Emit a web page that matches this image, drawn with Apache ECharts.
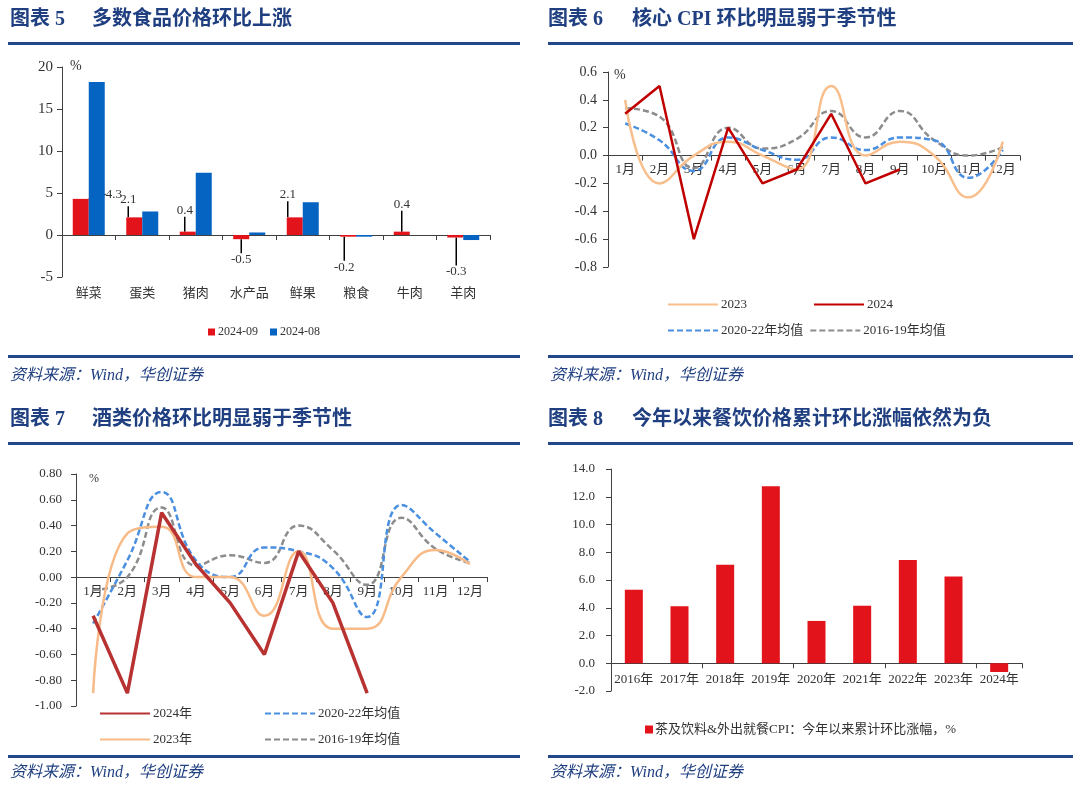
<!DOCTYPE html>
<html><head><meta charset="utf-8">
<script src="https://cdn.jsdelivr.net/npm/echarts/dist/echarts.min.js"></script>
<style>html,body{margin:0;padding:0;background:#fff}#c{width:1080px;height:791px}</style>
</head><body><div id="c"></div><script>
// Panel 5: food prices MoM
const foodCats = ['鲜菜','蛋类','猪肉','水产品','鲜果','粮食','牛肉','羊肉'];
const food202409 = [4.3, 2.1, 0.4, -0.5, 2.1, -0.2, 0.4, -0.3];
const food202408 = [18.2, 2.8, 7.4, 0.3, 3.9, -0.2, 0, -0.6];
// Panel 6: core CPI MoM
const months = ['1月','2月','3月','4月','5月','6月','7月','8月','9月','10月','11月','12月'];
const core2023 = [0.4, -0.2, 0.0, 0.1, 0.0, -0.1, 0.5, 0.0, 0.1, 0.0, -0.3, 0.1];
const core2024 = [0.3, 0.5, -0.6, 0.2, -0.2, -0.1, 0.3, -0.2, -0.1];
const core2022avg = [0.23, 0.11, -0.11, 0.13, 0.04, -0.03, 0.13, 0.04, 0.13, 0.11, -0.16, 0.04];
const core2019avg = [0.34, 0.28, -0.09, 0.2, 0.05, 0.12, 0.32, 0.13, 0.32, 0.11, 0.0, 0.06];
// Panel 7: liquor prices MoM
const liq2024 = [-0.3, -0.9, 0.5, 0.1, -0.2, -0.6, 0.2, -0.2, -0.9];
const liq2023 = [-0.9, 0.34, 0.39, 0.0, 0.0, -0.3, 0.2, -0.4, -0.4, 0.0, 0.21, 0.1];
const liq2022avg = [-0.36, 0.13, 0.66, 0.13, 0.0, 0.23, 0.2, 0.07, -0.31, 0.56, 0.34, 0.12];
const liq2019avg = [-0.1, 0.0, 0.54, 0.09, 0.17, 0.11, 0.4, 0.21, -0.06, 0.46, 0.22, 0.11];
// Panel 8: catering cumulative MoM
const years = ['2016年','2017年','2018年','2019年','2020年','2021年','2022年','2023年','2024年'];
const cater = [5.3, 4.1, 7.1, 12.75, 3.05, 4.15, 7.45, 6.25, -0.63];

const SERIF = '"Liberation Serif","Noto Sans CJK SC",serif';
const TXT = '#333';
const BLUE_T = '#1f3f80';
const RULE = '#24478a';

const grids = [
  {left: 62, top: 67, width: 428, height: 210},
  {left: 608, top: 72, width: 412, height: 195},
  {left: 76, top: 474, width: 411, height: 232},
  {left: 611, top: 469, width: 411, height: 222}
];
const yRanges = [[-5, 20, 5], [-0.8, 0.6, 0.2], [-1, 0.8, 0.2], [-2, 14, 2]];
// distance of the zero line above the grid bottom
const zeroLift = g => grids[g].height * (0 - yRanges[g][0]) / (yRanges[g][1] - yRanges[g][0]);

const chart = echarts.init(document.getElementById('c'), null, {renderer: 'canvas'});

function yAx(g, fmt, fs, margin) {
  return {
    type: 'value', gridIndex: g, min: yRanges[g][0], max: yRanges[g][1], interval: yRanges[g][2],
    axisLine: {show: true, lineStyle: {color: '#404040', width: 1}},
    axisTick: {show: true, length: 5, inside: false, lineStyle: {color: '#404040'}},
    splitLine: {show: false},
    axisLabel: {fontFamily: SERIF, fontSize: fs, color: TXT, margin: margin,
      formatter: v => { const f = Math.abs(v) < 1e-9 ? 0 : v; return fmt(f); }}
  };
}
// axis carrying only the category labels
function xLabels(g, data, margin, offset) {
  return {
    type: 'category', gridIndex: g, data: data, position: 'bottom', offset: offset,
    axisLine: {show: false, onZero: false}, axisTick: {show: false},
    axisLabel: {fontFamily: SERIF, fontSize: 13, color: TXT, margin: margin, interval: 0},
    splitLine: {show: false}
  };
}
// axis carrying the zero line and ticks
function xLine(g, data) {
  return {
    type: 'category', gridIndex: g, data: data, position: 'bottom',
    axisLine: {show: true, onZero: true, lineStyle: {color: '#404040', width: 1}},
    axisTick: {show: true, length: 5, inside: false, lineStyle: {color: '#404040'}},
    axisLabel: {show: false},
    splitLine: {show: false}
  };
}

const labelShift = [[33, 6], [-6, -7], [-3, -11], [0, 11], [-7, -12], [-4, 21], [0, -17], [1, 25]];

const lineS = (name, data, color, width, type, smooth, xi, yi, z) => ({
  name: name, type: 'line', data: data, xAxisIndex: xi, yAxisIndex: yi,
  symbol: 'none', smooth: smooth ? 0.5 : false, z: z,
  lineStyle: {color: color, width: width, type: type},
  itemStyle: {color: color}
});

const legLine = {itemWidth: 50, itemHeight: 10, itemStyle: {opacity: 0},
  textStyle: {fontFamily: SERIF, fontSize: 13, color: TXT, padding: [0, 0, 0, -2]}};

const option = {
  animation: false,
  backgroundColor: '#fff',
  grid: grids.map(g => Object.assign({containLabel: false, outerBoundsMode: 'none'}, g)),
  xAxis: [
    xLabels(0, foodCats, 10, 0),
    xLine(0, foodCats),
    xLabels(1, months, 8, -zeroLift(1)),
    xLine(1, months),
    xLabels(2, months, 8, -zeroLift(2)),
    xLine(2, months),
    xLabels(3, years, 10, -zeroLift(3)),
    xLine(3, years)
  ],
  yAxis: [
    yAx(0, v => String(v), 15, 9),
    yAx(1, v => v.toFixed(1), 14, 11),
    yAx(2, v => v.toFixed(2), 13, 14),
    yAx(3, v => v.toFixed(1), 13, 16)
  ],
  legend: [
    {left: 203, top: 321, itemWidth: 7, itemHeight: 7, itemGap: 12, icon: 'rect',
      textStyle: {fontFamily: SERIF, fontSize: 12, color: TXT, padding: [0, 0, 0, -2]},
      data: ['2024-09', '2024-08']},
    Object.assign({left: 662, top: 293, itemGap: 66, data: ['2023', '2024']}, legLine),
    Object.assign({left: 662, top: 319, itemGap: 6, data: ['2020-22年均值', '2016-19年均值']}, legLine),
    Object.assign({left: 94, top: 702, itemGap: 72, data: ['2024年', '2020-22年均值 ']}, legLine),
    Object.assign({left: 94, top: 728, itemGap: 72, data: ['2023年', '2016-19年均值 ']}, legLine),
    {left: 640, top: 718, itemWidth: 8, itemHeight: 8, icon: 'rect',
      textStyle: {fontFamily: SERIF, fontSize: 13, color: TXT, padding: [0, 0, 0, -3]},
      data: ['茶及饮料&外出就餐CPI：今年以来累计环比涨幅，%']}
  ],
  series: [
    {name: '2024-09', type: 'bar', xAxisIndex: 0, yAxisIndex: 0, data: food202409,
      barWidth: 16, barGap: '0%', itemStyle: {color: '#e3131b'},
      label: {show: true, fontFamily: SERIF, fontSize: 13, color: TXT,
        position: 'top', distance: 4,
        formatter: p => p.value.toFixed(1)},
      labelLine: {show: true, lineStyle: {color: '#000', width: 1.5}},
      labelLayout: p => {
        const s = labelShift[p.dataIndex];
        const neg = food202409[p.dataIndex] < 0;
        return {dx: s[0], dy: s[1] + (neg ? p.rect.height + 20 : 0)};
      }},
    {name: '2024-08', type: 'bar', xAxisIndex: 0, yAxisIndex: 0, data: food202408,
      barWidth: 16, barGap: '0%', itemStyle: {color: '#0563c1'}},

    lineS('2016-19年均值', core2019avg, '#8c8c8c', 2.5, [6, 3], true, 3, 1, 2),
    lineS('2020-22年均值', core2022avg, '#4a8fe0', 2.5, [6, 3], true, 3, 1, 3),
    lineS('2023', core2023, '#f8bf8c', 2.5, 'solid', true, 3, 1, 4),
    lineS('2024', core2024, '#c00000', 2.5, 'solid', false, 3, 1, 5),

    lineS('2016-19年均值 ', liq2019avg, '#8c8c8c', 2.5, [6, 3], true, 5, 2, 2),
    lineS('2020-22年均值 ', liq2022avg, '#4a8fe0', 2.5, [6, 3], true, 5, 2, 3),
    lineS('2023年', liq2023, '#f8bb88', 2.5, 'solid', true, 5, 2, 4),
    lineS('2024年', liq2024, '#b83232', 3.5, 'solid', false, 5, 2, 5),

    {name: '茶及饮料&外出就餐CPI：今年以来累计环比涨幅，%', type: 'bar', xAxisIndex: 7, yAxisIndex: 3,
      data: cater, barWidth: 18, itemStyle: {color: '#e3131b'}}
  ],
  graphic: [
    {type: 'text', left: 10, top: 10, style: {text: '图表 5', font: 'bold 20px ' + SERIF, fill: BLUE_T}},
    {type: 'text', left: 92, top: 10, style: {text: '多数食品价格环比上涨', font: 'bold 20px ' + SERIF, fill: BLUE_T}},
    {type: 'text', left: 548, top: 10, style: {text: '图表 6', font: 'bold 20px ' + SERIF, fill: BLUE_T}},
    {type: 'text', left: 632, top: 10, style: {text: '核心 CPI 环比明显弱于季节性', font: 'bold 20px ' + SERIF, fill: BLUE_T}},
    {type: 'text', left: 10, top: 410, style: {text: '图表 7', font: 'bold 20px ' + SERIF, fill: BLUE_T}},
    {type: 'text', left: 92, top: 410, style: {text: '酒类价格环比明显弱于季节性', font: 'bold 20px ' + SERIF, fill: BLUE_T}},
    {type: 'text', left: 548, top: 410, style: {text: '图表 8', font: 'bold 20px ' + SERIF, fill: BLUE_T}},
    {type: 'text', left: 632, top: 410, style: {text: '今年以来餐饮价格累计环比涨幅依然为负', font: 'bold 20px ' + SERIF, fill: BLUE_T}},

    {type: 'rect', shape: {x: 8, y: 42, width: 512, height: 3}, style: {fill: RULE}},
    {type: 'rect', shape: {x: 548, y: 42, width: 525, height: 3}, style: {fill: RULE}},
    {type: 'rect', shape: {x: 8, y: 355, width: 512, height: 3}, style: {fill: RULE}},
    {type: 'rect', shape: {x: 548, y: 355, width: 525, height: 3}, style: {fill: RULE}},
    {type: 'rect', shape: {x: 8, y: 442, width: 512, height: 3}, style: {fill: RULE}},
    {type: 'rect', shape: {x: 548, y: 442, width: 525, height: 3}, style: {fill: RULE}},
    {type: 'rect', shape: {x: 8, y: 755, width: 512, height: 3}, style: {fill: RULE}},
    {type: 'rect', shape: {x: 548, y: 755, width: 525, height: 3}, style: {fill: RULE}},

    {type: 'text', left: 10, top: 368, style: {text: '资料来源：Wind，华创证券', font: 'italic 16px ' + SERIF, fill: BLUE_T}},
    {type: 'text', left: 550, top: 368, style: {text: '资料来源：Wind，华创证券', font: 'italic 16px ' + SERIF, fill: BLUE_T}},
    {type: 'text', left: 10, top: 765, style: {text: '资料来源：Wind，华创证券', font: 'italic 16px ' + SERIF, fill: BLUE_T}},
    {type: 'text', left: 550, top: 765, style: {text: '资料来源：Wind，华创证券', font: 'italic 16px ' + SERIF, fill: BLUE_T}},

    {type: 'text', left: 70, top: 59, style: {text: '%', font: '14px ' + SERIF, fill: TXT}},
    {type: 'text', left: 614, top: 68, style: {text: '%', font: '14px ' + SERIF, fill: TXT}},
    {type: 'text', left: 89, top: 473, style: {text: '%', font: '12px ' + SERIF, fill: TXT}}
  ]
};
chart.setOption(option);
</script></body></html>
